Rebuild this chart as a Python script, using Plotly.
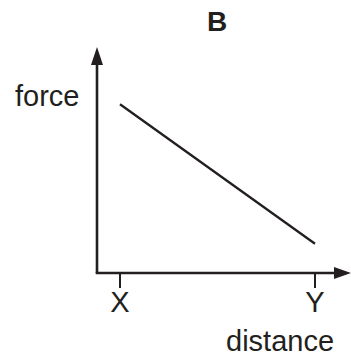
import plotly.graph_objects as go

# dados do gráfico
distance = [0, 1]
force = [0.75, 0.13]
tick_vals = [0, 1]
tick_text = ["X", "Y"]

INK = "#231f20"
FONT = "Liberation Sans, Arial, sans-serif"

W, H = 351, 356
L, R, T, B = 97, 0, 48, 83
PW, PH = W - L - R, H - T - B


def px(x, y):
    """pixel -> paper"""
    return (x - L) / PW, (H - B - y) / PH


def path(points):
    pts = [px(x, y) for x, y in points]
    return "M" + " L".join(f"{a:.5f},{b:.5f}" for a, b in pts) + " Z"


fig = go.Figure()
fig.add_trace(go.Scatter(
    x=distance, y=force, mode="lines",
    line=dict(color=INK, width=2.3),
    hoverinfo="skip", showlegend=False, cliponaxis=False
))

# eixos com setas
x0, y0 = px(97, 273)
ytop = px(97, 63)[1]
xright = px(336, 273)[0]
shapes = [
    dict(type="line", xref="paper", yref="paper", x0=x0, y0=y0, x1=x0, y1=ytop,
         line=dict(color=INK, width=2.6)),
    dict(type="line", xref="paper", yref="paper", x0=x0 - 1.3 / PW, y0=y0, x1=xright, y1=y0,
         line=dict(color=INK, width=2.6)),
    dict(type="path", xref="paper", yref="paper", path=path([(97, 47), (103, 65), (91, 65)]),
         fillcolor=INK, line=dict(width=0)),
    dict(type="path", xref="paper", yref="paper", path=path([(351, 273), (334, 279), (334, 267)]),
         fillcolor=INK, line=dict(width=0)),
]

annotations = [
    dict(text="force", x=px(47, 96)[0], y=px(47, 96)[1], size=29),
    dict(text="distance", x=px(280, 341)[0], y=px(280, 341)[1], size=29),
    dict(text="<b>B</b>", x=px(217, 22)[0], y=px(217, 22)[1], size=28),
]
for a in annotations:
    a.update(xref="paper", yref="paper", showarrow=False, xanchor="center", yanchor="middle",
             font=dict(family=FONT, size=a.pop("size"), color=INK))

fig.update_layout(
    width=W, height=H, autosize=False,
    margin=dict(l=L, r=R, t=T, b=B),
    paper_bgcolor="white", plot_bgcolor="white",
    showlegend=False,
    shapes=shapes, annotations=annotations,
    xaxis=dict(range=[-23 / 195, 1 + 36 / 195], showgrid=False, zeroline=False, showline=False,
               tickmode="array", tickvals=tick_vals, ticktext=tick_text,
               ticks="outside", ticklen=14, tickwidth=2.2, tickcolor=INK,
               ticklabelstandoff=-11,
               tickfont=dict(family=FONT, size=29, color=INK), fixedrange=True),
    yaxis=dict(range=[0, 1], showgrid=False, zeroline=False, showline=False,
               showticklabels=False, ticks="", fixedrange=True),
)

# tirar a margem padrão do body para a figura ocupar a janela toda
fig.write_html("out.html", config={"displayModeBar": False},
               post_script="document.body.style.margin='0';document.body.style.overflow='hidden';")
